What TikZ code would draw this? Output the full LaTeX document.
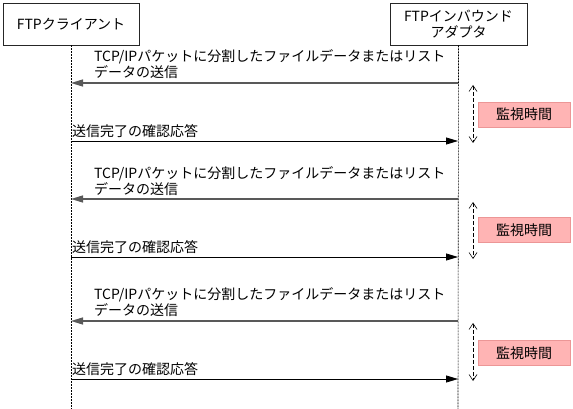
\documentclass[tikz,border=0pt]{standalone}
\usepackage{fontspec}
\setmainfont{Noto Sans CJK JP}
\usetikzlibrary{arrows.meta}
\definecolor{monfill}{RGB}{255,180,180}
\definecolor{monline}{RGB}{236,150,150}
\begin{document}
\begin{tikzpicture}[x=1pt,y=-1pt,
  every node/.style={font=\fontsize{14}{16}\selectfont, inner sep=0pt},
  actor/.style={draw=black!85, line width=0.8pt, fill=white, minimum height=42pt, align=center},
  lifeline/.style={line width=0.6pt, dash pattern=on 2pt off 1pt},
  datamsg/.style={draw=black!65, line width=1.3pt, -{Triangle[length=12pt,width=7pt]}},
  ackmsg/.style={draw=black, line width=0.8pt, -{Triangle[length=12pt,width=7pt]}},
  monarrow/.style={line width=0.6pt, dash pattern=on 4pt off 2pt, {Straight Barb[length=6pt,width=8pt]}-{Straight Barb[length=6pt,width=8pt]}},
  monbox/.style={draw=monline, fill=monfill, line width=0.8pt, minimum width=92pt, minimum height=25pt},
  msglabel/.style={anchor=south west, align=left}
]
\useasboundingbox (0,0) rectangle (573,409);
\fill[white] (0,0) rectangle (573,409);

% actors
\node[actor, minimum width=136pt] (client) at (71,24) {FTPクライアント};
\node[actor, minimum width=137pt] (adapter) at (458.5,24) {FTPインバウンド\\アダプタ};

% lifelines
\coordinate (cEnd) at (71,409);
\coordinate (aEnd) at (458,409);
\draw[lifeline] (client.south) -- (cEnd);
\draw[lifeline] (adapter.south) -- (aEnd);

% message coordinates
\foreach \i/\d/\a in {1/83/141, 2/199/257, 3/321/379}{
  \coordinate (cD\i) at (71,\d);
  \coordinate (aD\i) at (458,\d);
  \coordinate (cA\i) at (71,\a);
  \coordinate (aA\i) at (458,\a);
}

% set 1
\draw[datamsg] (aD1) -- (cD1);
\node[msglabel] (t1) at (94,79) {TCP/IPパケットに分割したファイルデータまたはリスト\\データの送信};
\draw[ackmsg] (cA1) -- (aA1);
\node[anchor=south west] (k1) at (72,138) {送信完了の確認応答};
\coordinate (m1a) at (473,85);
\coordinate (m1b) at (473,143);
\draw[monarrow] (m1a) -- (m1b);
\node[monbox] (w1) at (524,114.5) {監視時間};

% set 2
\draw[datamsg] (aD2) -- (cD2);
\node[msglabel] (t2) at (94,196) {TCP/IPパケットに分割したファイルデータまたはリスト\\データの送信};
\draw[ackmsg] (cA2) -- (aA2);
\node[anchor=south west] (k2) at (72,254) {送信完了の確認応答};
\coordinate (m2a) at (473,202);
\coordinate (m2b) at (473,259);
\draw[monarrow] (m2a) -- (m2b);
\node[monbox] (w2) at (524,230) {監視時間};

% set 3
\draw[datamsg] (aD3) -- (cD3);
\node[msglabel] (t3) at (94,317) {TCP/IPパケットに分割したファイルデータまたはリスト\\データの送信};
\draw[ackmsg] (cA3) -- (aA3);
\node[anchor=south west] (k3) at (72,376) {送信完了の確認応答};
\coordinate (m3a) at (473,323);
\coordinate (m3b) at (473,381);
\draw[monarrow] (m3a) -- (m3b);
\node[monbox] (w3) at (524,353) {監視時間};
\end{tikzpicture}
\end{document}
